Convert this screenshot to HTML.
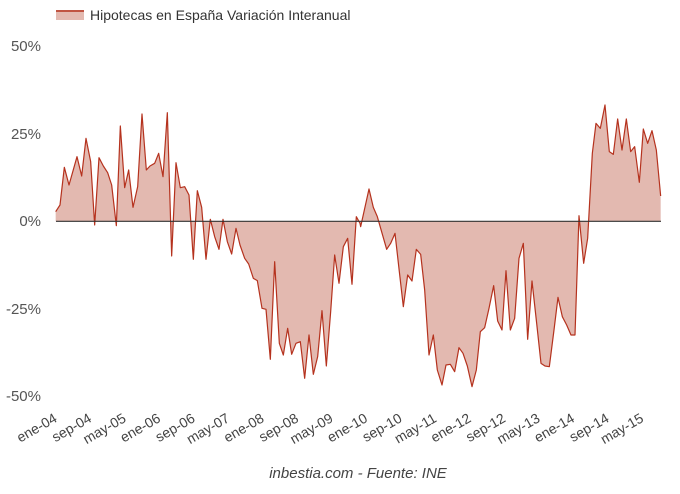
<!DOCTYPE html>
<html><head><meta charset="utf-8"><style>
body{margin:0;background:#fff;}
svg{font-family:"Liberation Sans",sans-serif;}
</style></head><body>
<svg width="680" height="489" viewBox="0 0 680 489">
<rect x="56" y="10" width="28" height="10" fill="#e3b9b0"/>
<line x1="56" y1="11" x2="84" y2="11" stroke="#b5321e" stroke-width="1.5"/>
<text x="90" y="20" font-size="14" fill="#333">Hipotecas en España Variación Interanual</text>
<g font-size="15" fill="#555" text-anchor="end">
<text x="41" y="51">50%</text>
<text x="41" y="139">25%</text>
<text x="41" y="226">0%</text>
<text x="41" y="314">-25%</text>
<text x="41" y="401">-50%</text>
</g>
<g transform="translate(40,90) scale(0.33333)">
<path id="s" fill="#e3b9b0" stroke="none" d="M47,394 L47,365 60,345 73,232 87,285 111,200 125,258 138,145 152,215 164,405 177,203 190,228 203,248 215,285 229,407 241,108 254,293 266,240 279,352 293,290 306,72 319,240 330,228 344,220 356,190 369,260 382,68 395,498 408,218 421,293 434,290 447,315 460,508 472,302 485,352 498,508 511,388 524,440 537,478 549,388 562,455 575,492 588,415 600,465 614,505 626,522 640,565 652,572 666,655 678,658 691,808 704,515 718,760 730,795 743,715 755,793 768,760 781,755 794,865 807,735 820,853 833,800 846,662 859,828 872,665 884,495 897,580 910,470 923,445 936,583 949,380 960,400 962,410 987,297 1000,352 1012,380 1040,478 1052,460 1065,430 1078,545 1090,650 1103,555 1116,573 1129,478 1142,493 1154,600 1167,795 1180,735 1192,840 1206,885 1218,825 1231,823 1244,845 1257,773 1269,790 1282,828 1296,890 1309,840 1321,725 1334,713 1347,655 1361,587 1373,693 1386,720 1398,542 1411,720 1424,685 1437,505 1450,460 1463,748 1476,573 1490,700 1503,820 1515,828 1528,830 1542,720 1554,622 1567,680 1580,705 1593,735 1605,735 1617,377 1631,520 1643,445 1657,190 1668,100 1681,115 1695,45 1708,185 1720,193 1733,87 1746,180 1759,87 1772,185 1784,170 1798,277 1810,117 1823,160 1836,122 1849,180 1862,318 L1862,394 Z"/>
<path fill="none" stroke="#b5321e" stroke-width="1.2" vector-effect="non-scaling-stroke" stroke-linejoin="round" d="M47,365 60,345 73,232 87,285 111,200 125,258 138,145 152,215 164,405 177,203 190,228 203,248 215,285 229,407 241,108 254,293 266,240 279,352 293,290 306,72 319,240 330,228 344,220 356,190 369,260 382,68 395,498 408,218 421,293 434,290 447,315 460,508 472,302 485,352 498,508 511,388 524,440 537,478 549,388 562,455 575,492 588,415 600,465 614,505 626,522 640,565 652,572 666,655 678,658 691,808 704,515 718,760 730,795 743,715 755,793 768,760 781,755 794,865 807,735 820,853 833,800 846,662 859,828 872,665 884,495 897,580 910,470 923,445 936,583 949,380 960,400 962,410 987,297 1000,352 1012,380 1040,478 1052,460 1065,430 1078,545 1090,650 1103,555 1116,573 1129,478 1142,493 1154,600 1167,795 1180,735 1192,840 1206,885 1218,825 1231,823 1244,845 1257,773 1269,790 1282,828 1296,890 1309,840 1321,725 1334,713 1347,655 1361,587 1373,693 1386,720 1398,542 1411,720 1424,685 1437,505 1450,460 1463,748 1476,573 1490,700 1503,820 1515,828 1528,830 1542,720 1554,622 1567,680 1580,705 1593,735 1605,735 1617,377 1631,520 1643,445 1657,190 1668,100 1681,115 1695,45 1708,185 1720,193 1733,87 1746,180 1759,87 1772,185 1784,170 1798,277 1810,117 1823,160 1836,122 1849,180 1862,318"/>
</g>
<line x1="56" y1="221.3" x2="661" y2="221.3" stroke="#333" stroke-width="1.2"/>
<g font-size="14" fill="#444" text-anchor="end">
<text transform="translate(58,421) rotate(-30)">ene-04</text>
<text transform="translate(92.5,421) rotate(-30)">sep-04</text>
<text transform="translate(127,421) rotate(-30)">may-05</text>
<text transform="translate(161.5,421) rotate(-30)">ene-06</text>
<text transform="translate(196,421) rotate(-30)">sep-06</text>
<text transform="translate(230.5,421) rotate(-30)">may-07</text>
<text transform="translate(265,421) rotate(-30)">ene-08</text>
<text transform="translate(299.5,421) rotate(-30)">sep-08</text>
<text transform="translate(334,421) rotate(-30)">may-09</text>
<text transform="translate(368.5,421) rotate(-30)">ene-10</text>
<text transform="translate(403,421) rotate(-30)">sep-10</text>
<text transform="translate(437.5,421) rotate(-30)">may-11</text>
<text transform="translate(472,421) rotate(-30)">ene-12</text>
<text transform="translate(506.5,421) rotate(-30)">sep-12</text>
<text transform="translate(541,421) rotate(-30)">may-13</text>
<text transform="translate(575.5,421) rotate(-30)">ene-14</text>
<text transform="translate(610,421) rotate(-30)">sep-14</text>
<text transform="translate(644.5,421) rotate(-30)">may-15</text>
</g>
<text x="358" y="478" font-size="15" font-style="italic" fill="#444" text-anchor="middle">inbestia.com - Fuente: INE</text>
</svg>
</body></html>
